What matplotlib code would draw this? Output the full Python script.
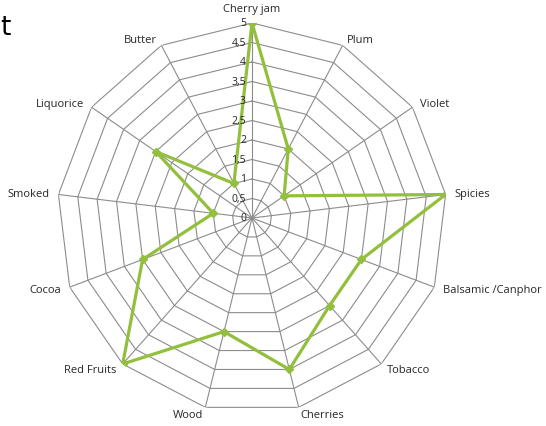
import numpy as np
import matplotlib
matplotlib.use("Agg")
from matplotlib import pyplot as plt

## Data ##
categories = ["Cherry jam", "Plum", "Violet", "Spicies", "Balsamic /Canphor", "Tobacco",
              "Cherries", "Wood", "Red Fruits", "Cocoa", "Smoked", "Liquorice", "Butter"]
values = [5, 2, 1, 5, 3, 3, 4, 3, 5, 3, 1, 3, 1]
levels = [0, 0.5, 1, 1.5, 2, 2.5, 3, 3.5, 4, 4.5, 5]
level_labels = ["0", "0,5", "1", "1,5", "2", "2,5", "3", "3,5", "4", "4,5", "5"]

## Style ##
line_color = "#92BF3C"
grid_color = "#8C8C8C"
text_color = "#262626"
plt.rcParams['font.family'] = ['Open Sans', 'DejaVu Sans']

n = len(categories)
theta = np.linspace(0, 2 * np.pi, n, endpoint=False)

fig = plt.figure(figsize=(5.46, 4.27), dpi=100)
# centre ~ (252,219) px, radius ~195 px
ax = fig.add_axes([57 / 546, 1 - 414 / 427, 390 / 546, 390 / 427], projection='polar')
ax.set_theta_offset(np.pi / 2)
ax.set_theta_direction(-1)
ax.set_ylim(0, 5)
ax.grid(False)
ax.spines['polar'].set_visible(False)
ax.set_xticks([])
ax.set_yticks([])
ax.patch.set_visible(False)

# polygon grid
th_closed = np.append(theta, theta[0])
for lv in levels[1:]:
    ax.plot(th_closed, [lv] * (n + 1), color=grid_color, lw=0.8, zorder=1)
for t in theta:
    ax.plot([t, t], [0, 5], color=grid_color, lw=0.8, zorder=1)

# data
ax.plot(th_closed, values + [values[0]], color=line_color, lw=2.3, zorder=3,
        marker='D', markersize=4.5, markeredgecolor=line_color)

# level labels along the top spoke
for lv, lab in zip(levels, level_labels):
    ax.annotate(lab, xy=(0, lv), xytext=(-6, 0), textcoords='offset pixels',
                ha='right', va='center', fontsize=7.5, color=text_color, zorder=4)

# category labels
for t, lab in zip(theta, categories):
    s, c = np.sin(t), np.cos(t)
    if abs(s) < 0.05:
        ha = 'center'
    elif s > 0:
        ha = 'left'
    else:
        ha = 'right'
    ax.annotate(lab, xy=(t, 5), xytext=(9 * s, 7 * c + (7 if c > 0.9 else 0)),
                textcoords='offset pixels',
                ha=ha, va='center', fontsize=8, color=text_color)

fig.text(0.0, 0.935, "t", fontsize=19, color="black", ha='left', va='center',
         family=['DejaVu Sans'])

plt.savefig("out.png", dpi=100)
plt.close()
